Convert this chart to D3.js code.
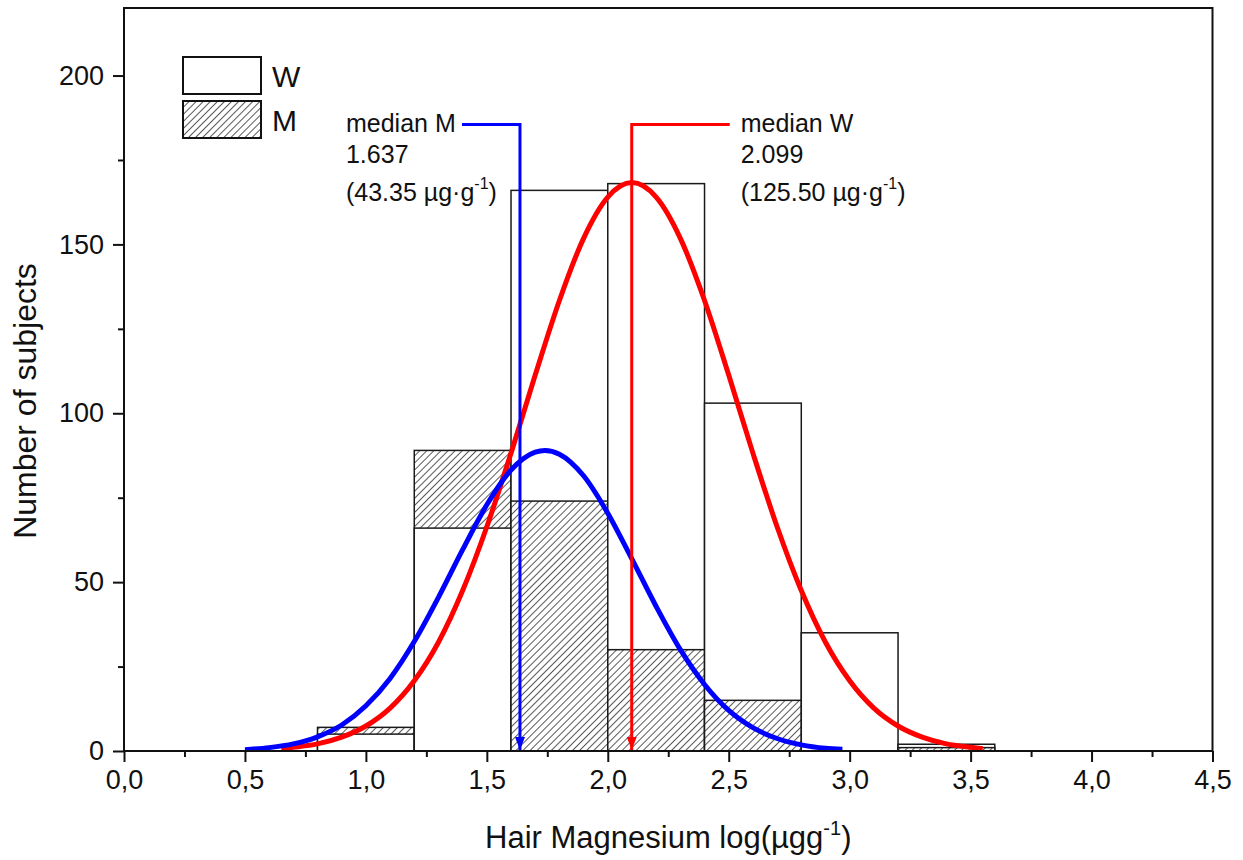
<!DOCTYPE html>
<html>
<head>
<meta charset="utf-8">
<script src="https://cdn.jsdelivr.net/npm/d3@7"></script>
<style>
  body { margin: 0; background: #fff; }
  svg text { font-family: "Liberation Sans", Arial, sans-serif; fill: #111; }
</style>
</head>
<body>
<div id="chart"></div>
<script>
// histogram bins (left edge), width 0.4
const binStart = [0.8, 1.2, 1.6, 2.0, 2.4, 2.8, 3.2];
const binWidth = 0.4;
const countW = [5, 66, 166, 168, 103, 35, 2];
const countM = [7, 89, 74, 30, 15, 0, 1];

// fitted curves [x, count]
const curveW = [[0.65, 0.7], [0.7, 1.1], [0.8, 2.1], [0.9, 4.1], [1.0, 7.4], [1.1, 12.7], [1.2, 20.8],
  [1.3, 32.2], [1.4, 47.5], [1.5, 66.4], [1.6, 88.2], [1.7, 111.3], [1.8, 133.4], [1.9, 151.8],
  [2.0, 164.0], [2.1, 168.3], [2.2, 164.0], [2.3, 151.8], [2.4, 133.4], [2.5, 111.3], [2.6, 88.2],
  [2.7, 66.4], [2.8, 47.5], [2.9, 32.2], [3.0, 20.8], [3.1, 12.7], [3.2, 7.4], [3.3, 4.1],
  [3.4, 2.1], [3.5, 1.1], [3.55, 0.7]];
const curveM = [[0.5, 0.4], [0.6, 1.0], [0.7, 2.1], [0.8, 4.2], [0.9, 7.7], [1.0, 13.4], [1.1, 21.5],
  [1.2, 32.4], [1.3, 45.5], [1.4, 59.6], [1.5, 72.9], [1.6, 83.2], [1.7, 88.5], [1.74, 89.0],
  [1.8, 87.9], [1.9, 81.5], [2.0, 70.4], [2.1, 56.8], [2.2, 42.8], [2.3, 30.0], [2.4, 19.7],
  [2.5, 12.0], [2.6, 6.9], [2.7, 3.7], [2.8, 1.8], [2.9, 0.8], [2.97, 0.5]];

const medianM = 1.637, medianW = 2.099;
const xTicks = [0, 0.5, 1.0, 1.5, 2.0, 2.5, 3.0, 3.5, 4.0, 4.5];
const yTicks = [0, 50, 100, 150, 200];

let width = 1243, height = 860;
let margin = {top: 8, right: 30, bottom: 109, left: 124};

let svg = d3.select('#chart').append('svg').attr('width', width).attr('height', height);

let xScale = d3.scaleLinear().domain([0, 4.5]).range([margin.left, width - margin.right - 0.5]);
let yScale = d3.scaleLinear().domain([0, 220]).range([height - margin.bottom, margin.top]);

let defs = svg.append('defs');
let hatch = defs.append('pattern').attr('id', 'hatch')
  .attr('patternUnits', 'userSpaceOnUse')
  .attr('width', 5).attr('height', 5)
  .attr('patternTransform', 'rotate(45)');
hatch.append('rect').attr('width', 5).attr('height', 5).attr('fill', '#fff');
hatch.append('line').attr('x1', 0).attr('y1', 0).attr('x2', 0).attr('y2', 5)
  .attr('stroke', '#111').attr('stroke-width', 1.4);

['blue', 'red'].forEach(c => {
  defs.append('marker').attr('id', 'arrow-' + c)
    .attr('viewBox', '0 0 13 10').attr('refX', 13).attr('refY', 5)
    .attr('markerWidth', 13).attr('markerHeight', 10)
    .attr('markerUnits', 'userSpaceOnUse')
    .attr('orient', 'auto')
    .append('path').attr('d', 'M0,0 L13,5 L0,10 Z').attr('fill', c);
});

// bars: taller one first, shorter one on top
let bars = [];
binStart.forEach((b, i) => {
  let pair = [{x: b, v: countW[i], s: 'W'}, {x: b, v: countM[i], s: 'M'}];
  pair.sort((a, c) => c.v - a.v);
  pair.forEach(p => { if (p.v > 0) bars.push(p); });
});

svg.append('g').attr('class', 'bars').selectAll('rect').data(bars).enter().append('rect')
  .attr('x', d => xScale(d.x))
  .attr('y', d => yScale(d.v))
  .attr('width', d => xScale(d.x + binWidth) - xScale(d.x))
  .attr('height', d => yScale(0) - yScale(d.v))
  .attr('fill', d => d.s == 'M' ? 'url(#hatch)' : '#fff')
  .attr('stroke', '#1a1a1a')
  .attr('stroke-width', 1.5);

// fitted curves
let line = d3.line().x(d => xScale(d[0])).y(d => yScale(d[1])).curve(d3.curveMonotoneX);
svg.append('path').datum(curveW).attr('d', line)
  .attr('fill', 'none').attr('stroke', '#ff0000').attr('stroke-width', 5);
svg.append('path').datum(curveM).attr('d', line)
  .attr('fill', 'none').attr('stroke', '#0000ff').attr('stroke-width', 5);

// median arrows
let leaderY = 185.5;
function medianArrow(val, color, x0) {
  svg.append('polyline')
    .attr('points', [[x0, yScale(leaderY)], [xScale(val), yScale(leaderY)], [xScale(val), yScale(0) - 1]].join(' '))
    .attr('fill', 'none').attr('stroke', color).attr('stroke-width', 3)
    .attr('marker-end', 'url(#arrow-' + color + ')');
}
medianArrow(medianM, 'blue', xScale(medianM) - 58);
medianArrow(medianW, 'red', xScale(medianW) + 98);

function annotation(x, lines) {
  let g = svg.append('g').attr('font-size', 25);
  g.append('text').attr('x', x).attr('y', 132).text(lines[0]);
  g.append('text').attr('x', x).attr('y', 163).text(lines[1]);
  let t = g.append('text').attr('x', x).attr('y', 201);
  t.append('tspan').text(lines[2]);
  t.append('tspan').attr('font-size', 16).attr('dy', -12).text('-1');
  t.append('tspan').attr('dy', 12).text(')');
}
annotation(xScale(medianM) - 174, ['median M', String(medianM), '(43.35 \u00b5g\u00b7g']);
annotation(xScale(medianW) + 109, ['median W', String(medianW), '(125.50 \u00b5g\u00b7g']);

// frame
svg.append('rect')
  .attr('x', xScale(0)).attr('y', yScale(220))
  .attr('width', xScale(4.5) - xScale(0)).attr('height', yScale(0) - yScale(220))
  .attr('fill', 'none').attr('stroke', '#111').attr('stroke-width', 2);

// axes
let fmt = d => d3.format('.1f')(d).replace('.', ',');
let xAxis = d3.axisBottom(xScale).tickValues(xTicks).tickFormat(fmt).tickSize(11).tickPadding(8);
let xMinor = d3.axisBottom(xScale).tickValues(xTicks.slice(0, -1).map(d => d + 0.25)).tickFormat('').tickSize(6);
let yAxis = d3.axisLeft(yScale).tickValues(yTicks).tickSize(11).tickPadding(9);
let yMinor = d3.axisLeft(yScale).tickValues(yTicks.map(d => d + 25)).tickFormat('').tickSize(6);

[xAxis, xMinor].forEach(ax => {
  svg.append('g').attr('class', 'xAxis')
    .attr('transform', 'translate(' + [0, yScale(0)] + ')').call(ax);
});
[yAxis, yMinor].forEach(ax => {
  svg.append('g').attr('class', 'yAxis')
    .attr('transform', 'translate(' + [xScale(0), 0] + ')').call(ax);
});
svg.selectAll('.xAxis .domain, .yAxis .domain').remove();
svg.selectAll('.xAxis .tick line, .yAxis .tick line').attr('stroke', '#111').attr('stroke-width', 2);
svg.selectAll('.xAxis text, .yAxis text').attr('font-size', 27).attr('fill', '#111')
  .attr('font-family', '"Liberation Sans", Arial, sans-serif');

// axis titles
let xt = svg.append('text').attr('x', (xScale(0) + xScale(4.5)) / 2).attr('y', 848)
  .attr('text-anchor', 'middle').attr('font-size', 31);
xt.append('tspan').text('Hair Magnesium log(\u00b5gg');
xt.append('tspan').attr('font-size', 20).attr('dy', -13).text('-1');
xt.append('tspan').attr('dy', 13).text(')');

svg.append('text')
  .attr('transform', 'translate(' + [36, 401] + ') rotate(-90)')
  .attr('text-anchor', 'middle').attr('font-size', 32)
  .text('Number of subjects');

// legend
let legend = svg.append('g').attr('class', 'legend');
let legendItems = [{label: 'W', fill: '#fff', y: 57}, {label: 'M', fill: 'url(#hatch)', y: 101}];
legendItems.forEach(d => {
  legend.append('rect').attr('x', 183).attr('y', d.y).attr('width', 78).attr('height', 37)
    .attr('fill', d.fill).attr('stroke', '#111').attr('stroke-width', 2);
  legend.append('text').attr('x', 272).attr('y', d.y + 30).attr('font-size', 30).text(d.label);
});
</script>
</body>
</html>
